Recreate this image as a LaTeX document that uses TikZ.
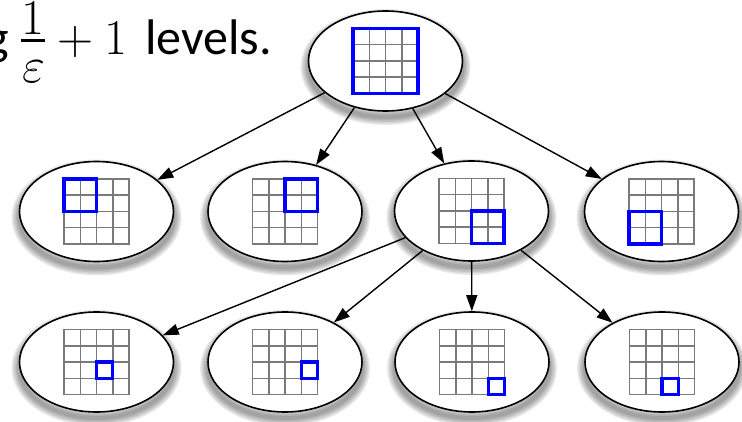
\RequirePackage{fix-cm}
\documentclass[tikz,border=0pt]{standalone}
\usepackage{fontspec}
\setmainfont{Carlito}
\usetikzlibrary{arrows.meta,shapes.geometric}

\definecolor{gridgray}{RGB}{122,122,122}
\definecolor{cellblue}{RGB}{0,0,255}

\tikzset{
  % soft shadow under each state: stacked translucent strokes, shifted down
  shadowband/.style={preaction={draw=black, draw opacity=0.085, line width=#1,
      transform canvas={yshift=-6pt}}},
  state/.style={ellipse, draw=black, line width=1.6pt, fill=white,
      minimum width=154pt, minimum height=100pt, inner sep=0pt,
      shadowband=16pt, shadowband=13pt, shadowband=10pt, shadowband=7pt,
      shadowband=4pt},
  link/.style={draw=black, line width=1.4pt,
      -{Triangle[length=16pt,width=11pt]}},
  gridline/.style={draw=gridgray, line width=1.5pt},
  bluebox/.style={draw=cellblue, line width=3.2pt},
  caption/.style={inner sep=0pt, font=\fontsize{50}{60}\selectfont},
  % 4x4 cell grid with the highlighted block from (#1,#2) to (#3,#4) in cells
  pics/quadgrid/.style args={#1/#2/#3/#4}{code={
    \draw[gridline] (-32.5,-32.5) rectangle (32.5,32.5);
    \foreach \k in {1,2,3}{
      \draw[gridline] ({-32.5+\k*16.25},-32.5) -- ({-32.5+\k*16.25},32.5);
      \draw[gridline] (-32.5,{-32.5+\k*16.25}) -- (32.5,{-32.5+\k*16.25});
    }
    \draw[bluebox] ({-32.5+#1*16.25},{-32.5+#2*16.25})
                   rectangle ({-32.5+#3*16.25},{-32.5+#4*16.25});
  }},
}

\begin{document}
\begin{tikzpicture}[x=1pt,y=-1pt]
\useasboundingbox (0,0) rectangle (742,422);
\clip (0,0) rectangle (742,422);

% heading: log(1/eps) + 1 levels.
\node[caption, anchor=base east] (logw) at (9,55) {$\log$};
\node[caption, anchor=base] (num) at (33,34.5) {$1$};
\node[caption, anchor=base] (den) at (33.5,83) {$\varepsilon$};
\draw[black, line width=3pt] (21,40.5) -- (44.5,40.5);
\node[caption, anchor=base west] (tail) at (46,55) {${}+1$\hskip18pt levels.};

% tree of states
\node[state] (top) at (385.5,61) {};

\node[state] (m1) at (96.5,211.5) {};
\node[state] (m2) at (285,211.5) {};
\node[state] (m3) at (471.5,211) {};
\node[state] (m4) at (661.5,211.5) {};

\node[state] (b1) at (96.5,362) {};
\node[state] (b2) at (285,362) {};
\node[state] (b3) at (472,362) {};
\node[state] (b4) at (662,362) {};

% grids with the selected region
\pic at (top) {quadgrid={0/0/4/4}};
\pic at (m1) {quadgrid={0/0/2/2}};
\pic at (m2) {quadgrid={2/0/4/2}};
\pic at (m3) {quadgrid={2/2/4/4}};
\pic at (m4) {quadgrid={0/2/2/4}};
\pic at (b1) {quadgrid={2/2/3/3}};
\pic at (b2) {quadgrid={3/2/4/3}};
\pic at (b3) {quadgrid={3/3/4/4}};
\pic at (b4) {quadgrid={2/3/3/4}};

% connectors
\foreach \c in {m1,m2,m3,m4}{ \draw[link] (top) -- (\c); }
\foreach \c in {b1,b2,b3,b4}{ \draw[link] (m3) -- (\c); }
\end{tikzpicture}
\end{document}
